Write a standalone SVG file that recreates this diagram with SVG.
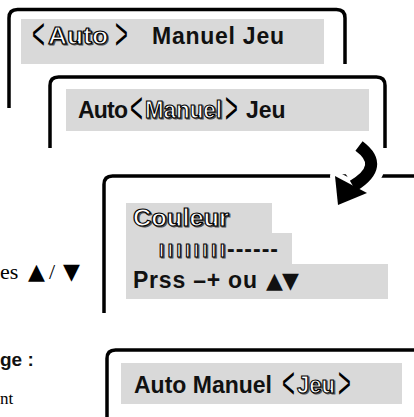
<svg xmlns="http://www.w3.org/2000/svg" width="414" height="417" viewBox="0 0 414 417">
<style>
.bx{fill:none;stroke:#000;stroke-width:3.5}
.bar{fill:#d9d9d9}
.t{font-family:"Liberation Sans",Arial,sans-serif;font-weight:bold;font-size:23px;fill:#111}
.ol{font-family:"Liberation Sans",Arial,sans-serif;font-weight:bold;font-size:23px;fill:#fff;stroke:#000;stroke-width:1.1}
.sh{font-family:"Liberation Sans",Arial,sans-serif;font-weight:bold;font-size:23px;fill:#555;stroke:#555;stroke-width:1.1}
.ch{font-family:"Liberation Sans",Arial,sans-serif;font-size:22px;font-weight:normal;fill:#000}
.tri{font-family:"DejaVu Sans",sans-serif}
.serif{font-family:"Liberation Serif","Times New Roman",serif;font-size:22px;fill:#000}
.lb{font-family:"Liberation Sans",Arial,sans-serif;font-weight:bold;font-size:19px;fill:#111}
</style>
<rect width="414" height="417" fill="#fff"/>

<g id="screen-auto">
<path class="bx" d="M9,108 V18 Q9,9.5 17.5,9.5 H336.5 Q345,9.5 345,18 V64"/>
<rect class="bar" x="21" y="19" width="303" height="45"/>
<text class="ch" transform="translate(32,49) scale(1,2)">&lt;</text>
<text class="sh" x="49.2" y="45.2" textLength="60" lengthAdjust="spacingAndGlyphs">Auto</text>
<text class="ol" x="48" y="44" textLength="60" lengthAdjust="spacingAndGlyphs">Auto</text>
<text class="ch" transform="translate(115,49) scale(1,2)">&gt;</text>
<text class="t" x="152" y="44" textLength="132">Manuel Jeu</text>
</g>

<g id="screen-manuel">
<path class="bx" d="M50,148 V85.5 Q50,77 58.5,77 H376.5 Q385,77 385,85.5 V148"/>
<rect class="bar" x="66" y="89" width="303" height="42"/>
<text class="t" x="78" y="118" textLength="50">Auto</text>
<text class="ch" transform="translate(130,123) scale(1,2)">&lt;</text>
<text class="sh" x="146.2" y="119.2" textLength="77" lengthAdjust="spacingAndGlyphs">Manuel</text>
<text class="ol" x="145" y="118" textLength="77" lengthAdjust="spacingAndGlyphs">Manuel</text>
<text class="ch" transform="translate(225,123) scale(1,2)">&gt;</text>
<text class="t" x="246" y="118">Jeu</text>
</g>

<g id="screen-couleur">
<path class="bx" d="M104,313 V184.5 Q104,176 112.5,176 H414"/>
<rect class="bar" x="126" y="203" width="146" height="30"/>
<rect class="bar" x="126" y="233" width="166" height="31"/>
<rect class="bar" x="126" y="264" width="262" height="35"/>
<text class="sh" x="134.2" y="227.2" textLength="96" lengthAdjust="spacingAndGlyphs">Couleur</text>
<text class="ol" x="133" y="226" textLength="96" lengthAdjust="spacingAndGlyphs">Couleur</text>
<text class="sh" x="160.2" y="258.2" style="font-size:18px" textLength="66">IIIIIIII</text>
<text class="ol" x="159" y="257" style="font-size:18px" textLength="66">IIIIIIII</text>
<text class="t" x="227" y="257" textLength="51">------</text>
<text class="t" x="133" y="288" textLength="124">Prss –+ ou</text>
<text class="t tri" x="266" y="288" style="font-size:22px" letter-spacing="-1">▲▼</text>
</g>

<g id="screen-jeu">
<path class="bx" d="M107,417 V358.5 Q107,350 115.5,350 H414"/>
<rect class="bar" x="121" y="363" width="281" height="41"/>
<text class="t" x="134" y="393">Auto Manuel</text>
<text class="ch" transform="translate(282,398) scale(1,2)">&lt;</text>
<text class="sh" x="298.2" y="394.2" textLength="38" lengthAdjust="spacingAndGlyphs">Jeu</text>
<text class="ol" x="297" y="393" textLength="38" lengthAdjust="spacingAndGlyphs">Jeu</text>
<text class="ch" transform="translate(338,398) scale(1,2)">&gt;</text>
</g>

<g id="connectors">
<g id="arrow">
<path d="M359,146 Q386,166 353,186" fill="none" stroke="#fff" stroke-width="28"/>
<polygon points="335,176 367,193 338,205" fill="#fff" stroke="#fff" stroke-width="10" stroke-linejoin="round"/>
<path d="M359,146 Q386,166 353,186" fill="none" stroke="#000" stroke-width="12"/>
<polygon points="335,176 367,193 338,205" fill="#000"/>
</g>
</g>

<g id="side-text">
<text class="serif" y="279"><tspan x="0">es</tspan><tspan class="tri" x="28">▲</tspan><tspan x="49">/</tspan><tspan class="tri" x="63">▼</tspan></text>
<text class="lb" x="0" y="366">ge :</text>
<text class="serif" x="0" y="404" style="font-size:17px">nt</text>
</g>
</svg>
